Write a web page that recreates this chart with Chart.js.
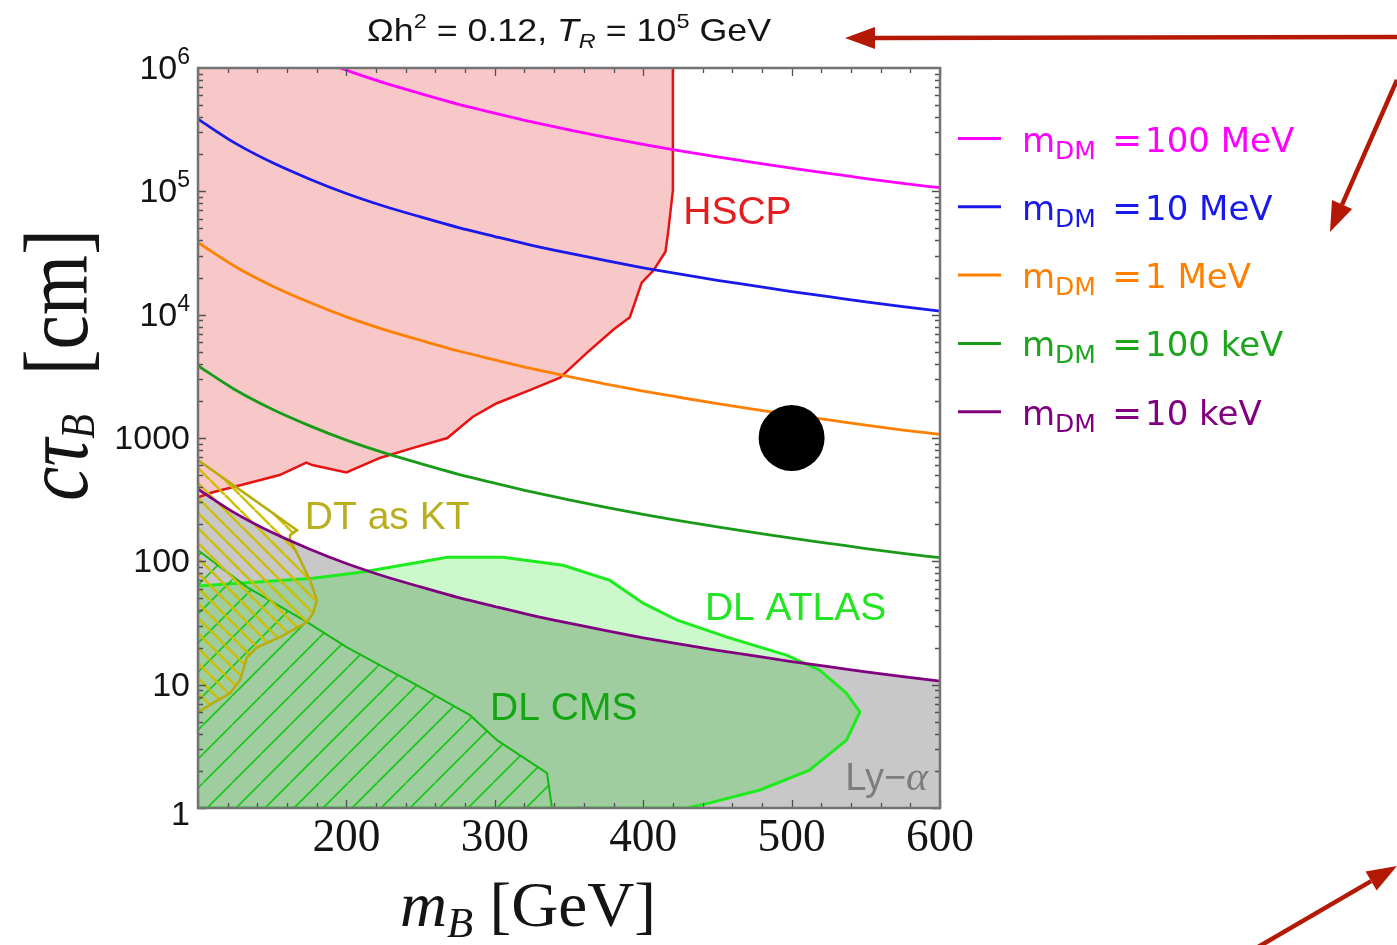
<!DOCTYPE html>
<html>
<head>
<meta charset="utf-8">
<script src="https://cdn.jsdelivr.net/npm/chart.js@4.4.0/dist/chart.umd.min.js"></script>
<style>
  html, body { margin: 0; padding: 0; background: #fff; }
  canvas { display: block; }
</style>
</head>
<body>
<canvas id="chart" width="1397" height="945"></canvas>
<script>
// ---- B lifetime vs mass for fixed relic density (Ωh² = 0.12, T_R = 10^5 GeV) ----

// mass grid for the dark-matter-mass curves [GeV]
const massGrid = [100, 125, 150, 175, 200, 225, 250, 275, 300, 325, 350, 375, 400, 425, 450, 475, 500, 525, 550, 575, 600];
// cτ_B [cm] for each dark matter mass
const ctau100MeV = [3.85e6, 2.46e6, 1.71e6, 1.26e6, 9.6e5, 7.6e5, 6.2e5, 5.1e5, 4.3e5, 3.65e5, 3.15e5, 2.74e5, 2.4e5, 2.13e5, 1.9e5, 1.71e5, 1.54e5, 1.40e5, 1.27e5, 1.16e5, 1.07e5];
const ctau10MeV  = [3.85e5, 2.46e5, 1.71e5, 1.26e5, 9.6e4, 7.6e4, 6.2e4, 5.1e4, 4.3e4, 3.65e4, 3.15e4, 2.74e4, 2.4e4, 2.13e4, 1.9e4, 1.71e4, 1.54e4, 1.40e4, 1.27e4, 1.16e4, 1.07e4];
const ctau1MeV   = [3.85e4, 2.46e4, 1.71e4, 1.26e4, 9600, 7600, 6200, 5100, 4300, 3650, 3150, 2740, 2400, 2130, 1900, 1710, 1540, 1400, 1270, 1160, 1070];
const ctau100keV = [3850, 2460, 1710, 1260, 960, 760, 620, 510, 430, 365, 315, 274, 240, 213, 190, 171, 154, 140, 127, 116, 107];
const ctau10keV  = [385, 246, 171, 126, 96, 76, 62, 51, 43, 36.5, 31.5, 27.4, 24, 21.3, 19, 17.1, 15.4, 14.0, 12.7, 11.6, 10.7];
const curveLabels = ['100 MeV', '10 MeV', '1 MeV', '100 keV', '10 keV'];

// HSCP exclusion boundary (excluded above)
const hscpMass = [100, 110, 133, 155, 173, 177, 200, 223, 245, 268, 285, 301, 324, 344, 362, 380, 391, 399, 407, 415, 417, 420, 420];
const hscpCtau = [331, 363, 427, 501, 631, 603, 525, 692, 832, 1000, 1480, 1905, 2455, 3090, 4900, 7590, 9550, 18200, 22900, 32400, 49000, 1.02e5, 1e6];

// displaced-lepton ATLAS region (closed contour)
const atlasMass = [100, 177.5, 211, 268, 305.5, 346, 377.6, 400, 423, 456.5, 497, 519, 537, 546, 537, 512, 478.7, 445, 429.5, 100];
const atlasCtau = [63, 73, 82, 108, 108, 93, 70, 45.8, 33.3, 24.3, 17.3, 13.1, 8.53, 5.98, 3.55, 2.03, 1.40, 1.10, 1, 1];

// displaced-lepton CMS boundary (excluded below)
const cmsMass = [100, 133, 173.5, 200.4, 244.9, 283.3, 301.5, 335.2, 338.5];
const cmsCtau = [123, 61.8, 32.2, 20.1, 10.3, 5.66, 3.55, 1.92, 1];

// disappearing tracks as kinked tracks (closed contour)
const dtMass = [100, 166.7, 162, 162, 166.7, 175.5, 180.2, 177.5, 173.5, 155.3, 139.8, 133, 128.3, 121.6, 110, 100];
const dtCtau = [662, 179, 163, 149, 116, 70.3, 48.4, 38, 32.2, 24.3, 20.1, 16.7, 10.9, 8.5, 7.08, 5.98];

// benchmark point
const benchMass = [500];
const benchCtau = [1000];

// axis ticks
const xTickValues = [200, 300, 400, 500, 600];
const yTickExponents = [0, 1, 2, 3, 4, 5, 6];

const toXY = (xs, ys) => xs.map((x, i) => ({ x: x, y: ys[i] }));

function hatch(size, dir, color, width) {
  const c = document.createElement('canvas');
  c.width = size; c.height = size;
  const g = c.getContext('2d');
  g.strokeStyle = color; g.lineWidth = width;
  g.beginPath();
  for (const o of [-size, 0, size]) {
    if (dir === '/') { g.moveTo(o, size); g.lineTo(o + size, 0); }
    else { g.moveTo(o, 0); g.lineTo(o + size, size); }
  }
  g.stroke();
  return g.createPattern(c, 'repeat');
}

const cmsHatch = hatch(29, '/', 'rgb(25,200,25)', 1.7);
const dtHatch = hatch(15, '\\', 'rgba(205,190,0,0.95)', 2.6);

const curveColors = ['rgb(255,0,255)', 'rgb(25,25,235)', 'rgb(255,128,0)', 'rgb(25,155,25)', 'rgb(128,0,128)'];
const legendTextColors = ['rgb(255,0,255)', 'rgb(25,25,235)', 'rgb(255,128,0)', 'rgb(30,165,30)', 'rgb(128,0,128)'];
const curveSeries = [ctau100MeV, ctau10MeV, ctau1MeV, ctau100keV, ctau10keV];

const SANS = '"Liberation Sans", Arial, sans-serif';
const SERIF = '"Liberation Serif", "DejaVu Serif", serif';
const LEG = '"DejaVu Sans", sans-serif';

function drawRuns(ctx, parts, x, y, align, targetW) {
  let w = 0;
  for (const p of parts) { ctx.font = p.f; p.w = ctx.measureText(p.t).width; w += p.w; }
  const sx = targetW ? targetW / w : 1;
  const total = w * sx;
  const x0 = align === 'center' ? x - total / 2 : align === 'right' ? x - total : x;
  ctx.save();
  ctx.translate(x0, y);
  ctx.scale(sx, 1);
  ctx.textAlign = 'left';
  ctx.textBaseline = 'alphabetic';
  let cx = 0;
  for (const p of parts) {
    ctx.font = p.f;
    if (p.c) ctx.fillStyle = p.c;
    ctx.fillText(p.t, cx, p.dy || 0);
    cx += p.w;
  }
  ctx.restore();
}

function arrow(ctx, x1, y1, x2, y2, width, head, half) {
  const a = Math.atan2(y2 - y1, x2 - x1);
  const bx = x2 - head * Math.cos(a), by = y2 - head * Math.sin(a);
  ctx.lineWidth = width;
  ctx.beginPath(); ctx.moveTo(x1, y1); ctx.lineTo(bx, by); ctx.stroke();
  ctx.beginPath();
  ctx.moveTo(x2, y2);
  ctx.lineTo(bx + half * Math.sin(a), by - half * Math.cos(a));
  ctx.lineTo(bx - half * Math.sin(a), by + half * Math.cos(a));
  ctx.closePath(); ctx.fill();
}

// frame, inward ticks and all annotation text
const decorPlugin = {
  id: 'decor',
  afterDatasetsDraw(chart) {
    const { ctx, chartArea: a, scales: { x, y } } = chart;
    ctx.save();
    // ticks
    ctx.strokeStyle = 'rgb(80,80,80)';
    ctx.lineWidth = 1.3;
    ctx.beginPath();
    for (let m = 100; m <= 600; m += 20) {
      const px = Math.round(x.getPixelForValue(m)) + 0.5;
      const len = (m % 100 === 0) ? 8 : 5;
      ctx.moveTo(px, a.bottom); ctx.lineTo(px, a.bottom - len);
      ctx.moveTo(px, a.top); ctx.lineTo(px, a.top + len);
    }
    for (let e = 0; e < 6; e++) {
      for (let k = 1; k <= 9; k++) {
        const py = Math.round(y.getPixelForValue(k * Math.pow(10, e))) + 0.5;
        const len = k === 1 ? 8 : 5;
        ctx.moveTo(a.left, py); ctx.lineTo(a.left + len, py);
        ctx.moveTo(a.right, py); ctx.lineTo(a.right - len, py);
      }
    }
    ctx.stroke();
    // frame
    ctx.strokeStyle = 'rgb(115,115,115)';
    ctx.lineWidth = 2.5;
    ctx.strokeRect(a.left, a.top, a.right - a.left, a.bottom - a.top);

    // region labels (anchored in data coordinates)
    const regionLabels = [
      { t: 'HSCP', m: 427, v: 5.4e4, c: 'rgb(228,30,30)' },
      { t: 'DT as KT', m: 172, v: 182, c: 'rgb(185,175,30)' },
      { t: 'DL ATLAS', m: 441.6, v: 33.3, c: 'rgb(35,228,35)' },
      { t: 'DL CMS', m: 296.8, v: 5.15, c: 'rgb(20,165,20)' }
    ];
    for (const r of regionLabels) {
      drawRuns(ctx, [{ t: r.t, f: '39px ' + SANS, c: r.c }], x.getPixelForValue(r.m), y.getPixelForValue(r.v), 'left');
    }
    drawRuns(ctx, [
      { t: 'Ly\u2212', f: '38px ' + SANS, c: 'rgb(125,125,125)' },
      { t: '\u03b1', f: 'italic 42px ' + SERIF, c: 'rgb(125,125,125)' }
    ], x.getPixelForValue(592), y.getPixelForValue(1.39), 'right');
    ctx.restore();
  },
  afterDraw(chart) {
    const { ctx, chartArea: a, scales: { x, y } } = chart;
    ctx.save();
    ctx.fillStyle = 'rgb(20,20,20)';
    // y tick labels
    for (const e of yTickExponents) {
      const py = y.getPixelForValue(Math.pow(10, e)) + 11;
      const parts = e < 4
        ? [{ t: String(Math.pow(10, e)), f: '34px ' + SANS }]
        : [{ t: '10', f: '34px ' + SANS }, { t: String(e), f: '23px ' + SANS, dy: -15 }];
      drawRuns(ctx, parts, a.left - 8, e === 0 ? py + 6 : py, 'right');
    }
    // x tick labels
    for (const m of xTickValues) {
      drawRuns(ctx, [{ t: String(m), f: '47px ' + SERIF }], x.getPixelForValue(m), a.bottom + 43, 'center', 68);
    }
    // x title
    drawRuns(ctx, [
      { t: 'm', f: 'italic 64px ' + SERIF },
      { t: 'B', f: 'italic 42px ' + SERIF, dy: 11 },
      { t: ' [GeV]', f: '64px ' + SERIF }
    ], a.left + 330, a.bottom + 118, 'center', 256);
    // y title
    ctx.save();
    ctx.translate(87, 365);
    ctx.rotate(-Math.PI / 2);
    drawRuns(ctx, [
      { t: 'c', f: 'italic 92px ' + SERIF },
      { t: '\u03c4', f: 'italic 92px ' + SERIF },
      { t: 'B', f: 'italic 48px ' + SERIF, dy: 7 },
      { t: '  [cm]', f: '92px ' + SERIF }
    ], 0, 0, 'center', 272);
    ctx.restore();
    // plot title
    drawRuns(ctx, [
      { t: '\u03a9h', f: '32px ' + SANS },
      { t: '2', f: '21px ' + SANS, dy: -13 },
      { t: ' = 0.12, ', f: '32px ' + SANS },
      { t: 'T', f: 'italic 32px ' + SANS },
      { t: 'R', f: 'italic 21px ' + SANS, dy: 7 },
      { t: ' = 10', f: '32px ' + SANS },
      { t: '5', f: '21px ' + SANS, dy: -13 },
      { t: ' GeV', f: '32px ' + SANS }
    ], (a.left + a.right) / 2, 41, 'center', 404);

    // legend
    for (let i = 0; i < curveLabels.length; i++) {
      const ry = a.top + 70.5 + i * 68.3;
      ctx.strokeStyle = curveColors[i];
      ctx.lineWidth = 3;
      ctx.beginPath(); ctx.moveTo(a.right + 18, ry); ctx.lineTo(a.right + 61, ry); ctx.stroke();
      const col = legendTextColors[i];
      const tx = a.right + 82;
      drawRuns(ctx, [
        { t: 'm', f: '34px ' + LEG, c: col },
        { t: 'DM', f: '25px ' + LEG, c: col, dy: 7 }
      ], tx, ry + 13, 'left');
      drawRuns(ctx, [{ t: '=', f: '36px ' + LEG, c: col }], tx + 90, ry + 13, 'left');
      drawRuns(ctx, [{ t: curveLabels[i], f: '34px ' + LEG, c: col }], tx + 123, ry + 13, 'left');
    }

    // annotation arrows
    ctx.strokeStyle = 'rgb(180,25,5)';
    ctx.fillStyle = 'rgb(180,25,5)';
    ctx.lineCap = 'butt';
    arrow(ctx, 1397, 37, 845, 38, 4.5, 30, 11);
    arrow(ctx, 1397, 80, 1330, 232, 4.5, 30, 11);
    arrow(ctx, 1258, 947, 1397, 866, 4.5, 30, 11);
    ctx.restore();
  }
};

const curveDatasets = curveSeries.map((vals, i) => ({
  data: toXY(massGrid, vals),
  borderColor: curveColors[i],
  borderWidth: 2.8,
  fill: false,
  cubicInterpolationMode: 'monotone',
  pointRadius: 0,
  clip: 0,
  order: 5 - i
}));

new Chart(document.getElementById('chart'), {
  type: 'line',
  data: {
    datasets: [
      { // Lyman-alpha region below the 10 keV curve
        data: toXY(massGrid, ctau10keV),
        borderWidth: 0,
        backgroundColor: 'rgb(200,200,200)',
        fill: 'start',
        cubicInterpolationMode: 'monotone',
        pointRadius: 0, clip: 0, order: 20
      },
      { // HSCP
        data: toXY(hscpMass, hscpCtau),
        borderColor: 'rgb(232,18,18)', borderWidth: 2.5,
        backgroundColor: 'rgb(248,200,200)',
        fill: 'end', pointRadius: 0, clip: 0, order: 19
      },
      { // DL ATLAS
        data: toXY(atlasMass, atlasCtau),
        borderColor: 'rgb(30,235,30)', borderWidth: 3,
        backgroundColor: 'rgba(0,225,0,0.2)',
        fill: 'shape', pointRadius: 0, clip: 0, order: 18
      },
      { // DL CMS
        data: toXY(cmsMass, cmsCtau),
        borderColor: 'rgb(20,185,20)', borderWidth: 2,
        backgroundColor: cmsHatch,
        fill: 'start', pointRadius: 0, clip: 0, order: 17
      },
      { // DT as KT
        data: toXY(dtMass, dtCtau),
        borderColor: 'rgb(185,172,15)', borderWidth: 2.6,
        backgroundColor: dtHatch,
        fill: 'shape', pointRadius: 0, clip: 0, order: 16
      },
      ...curveDatasets,
      { // benchmark point
        data: toXY(benchMass, benchCtau),
        showLine: false,
        pointRadius: 33,
        pointBackgroundColor: '#000',
        pointBorderWidth: 0,
        clip: 0, order: 0
      }
    ]
  },
  options: {
    responsive: false,
    devicePixelRatio: 1,
    animation: false,
    events: [],
    layout: { padding: { left: 198, right: 457, top: 68, bottom: 137 } },
    scales: {
      x: { type: 'linear', min: 100, max: 600, display: false },
      y: { type: 'logarithmic', min: 1, max: 1e6, display: false }
    },
    plugins: {
      legend: { display: false },
      tooltip: { enabled: false },
      title: { display: false }
    }
  },
  plugins: [decorPlugin]
});
</script>
</body>
</html>
